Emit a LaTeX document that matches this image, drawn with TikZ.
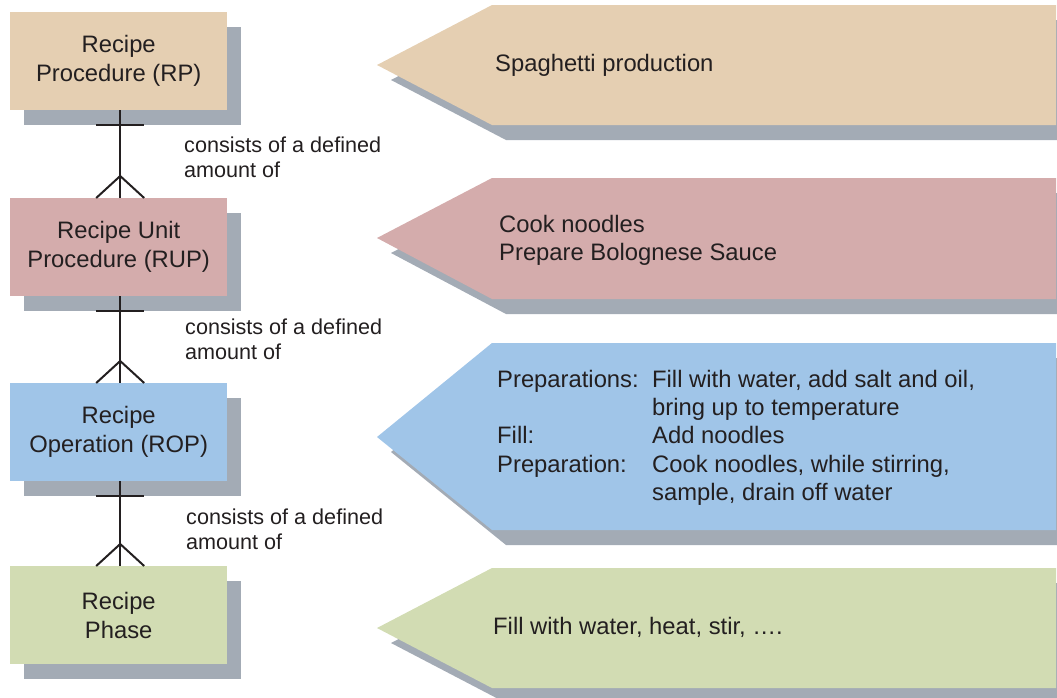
\documentclass[tikz,border=0pt]{standalone}
\usepackage{fontspec}
\setmainfont{Liberation Sans}
\usetikzlibrary{shadows}
\definecolor{rpcol}{HTML}{E5CFB2}
\definecolor{rupcol}{HTML}{D4ACAC}
\definecolor{ropcol}{HTML}{A0C5E8}
\definecolor{phcol}{HTML}{D2DCB3}
\definecolor{shcol}{HTML}{A3ABB5}
\definecolor{txtcol}{HTML}{231F20}
\begin{document}
\begin{tikzpicture}[x=1pt,y=-1pt,
  grayshadow/.style={general shadow={fill=shcol, shadow xshift=14pt, shadow yshift=-15pt}},
  levelbox/.style={grayshadow, minimum width=217pt, minimum height=98pt, inner sep=0pt,
    align=center, text=txtcol, font=\fontsize{23.8}{29}\selectfont},
  arrowtxt/.style={anchor=base west, inner sep=0pt, text=txtcol, font=\fontsize{23.8}{28.4}\selectfont},
  reltxt/.style={anchor=base west, inner sep=0pt, text=txtcol, font=\fontsize{21.6}{25.5}\selectfont},
  link/.style={draw=txtcol, line width=2pt}]
\useasboundingbox (0,0) rectangle (1057,697);
\clip (0,0) rectangle (1057,697);

% pointed example banners on the right
\fill[rpcol, grayshadow]  (492,5)   -- (1056,5)   -- (1056,125) -- (492,125) -- (377,65)  -- cycle;
\fill[rupcol, grayshadow] (492,178) -- (1056,178) -- (1056,299) -- (492,299) -- (377,238) -- cycle;
\fill[ropcol, grayshadow] (492,343) -- (1056,343) -- (1056,530) -- (492,530) -- (377,437) -- cycle;
\fill[phcol, grayshadow]  (492,568) -- (1056,568) -- (1056,688) -- (492,688) -- (377,628) -- cycle;

\node[arrowtxt] (ex1) at (495,71) {Spaghetti production};
\node[arrowtxt] (ex2) at (499,232) {\begin{tabular}[t]{@{}l@{}}Cook noodles\\Prepare Bolognese Sauce\end{tabular}};
\node[arrowtxt] (ex3) at (497,387) {\begin{tabular}[t]{@{}p{155pt}@{}l@{}}
  Preparations: & Fill with water, add salt and oil,\\
                & bring up to temperature\\
  Fill:         & Add noodles\\
  Preparation:  & Cook noodles, while stirring,\\
                & sample, drain off water
  \end{tabular}};
\node[arrowtxt] (ex4) at (493,634) {Fill with water, heat, stir, ….};

% recipe hierarchy levels
\node[levelbox, fill=rpcol,  anchor=north west] (rp)  at (10,12)  {Recipe\\Procedure (RP)};
\node[levelbox, fill=rupcol, anchor=north west] (rup) at (10,198) {Recipe Unit\\Procedure (RUP)};
\node[levelbox, fill=ropcol, anchor=north west] (rop) at (10,383) {Recipe\\Operation (ROP)};
\node[levelbox, fill=phcol,  anchor=north west] (ph)  at (10,566) {Recipe\\Phase};

% one-to-many relations (bar at the parent, crow's foot at the child)
\foreach \a/\b in {rp/rup, rop/ph, rup/rop}{
  \draw[link] ([xshift=1.5pt]\a.south) -- ([xshift=1.5pt]\b.north);
  \draw[link] ([xshift=-22.5pt,yshift=-15pt]\a.south) -- ([xshift=25.5pt,yshift=-15pt]\a.south);
  \draw[link] ([xshift=-22.5pt]\b.north) -- ([xshift=1.5pt,yshift=22pt]\b.north) -- ([xshift=25.5pt]\b.north);
}

\node[reltxt] (r1) at (184,152) {\begin{tabular}[t]{@{}l@{}}consists of a defined\\amount of\end{tabular}};
\node[reltxt] (r2) at (185,334) {\begin{tabular}[t]{@{}l@{}}consists of a defined\\amount of\end{tabular}};
\node[reltxt] (r3) at (186,524) {\begin{tabular}[t]{@{}l@{}}consists of a defined\\amount of\end{tabular}};
\end{tikzpicture}
\end{document}
